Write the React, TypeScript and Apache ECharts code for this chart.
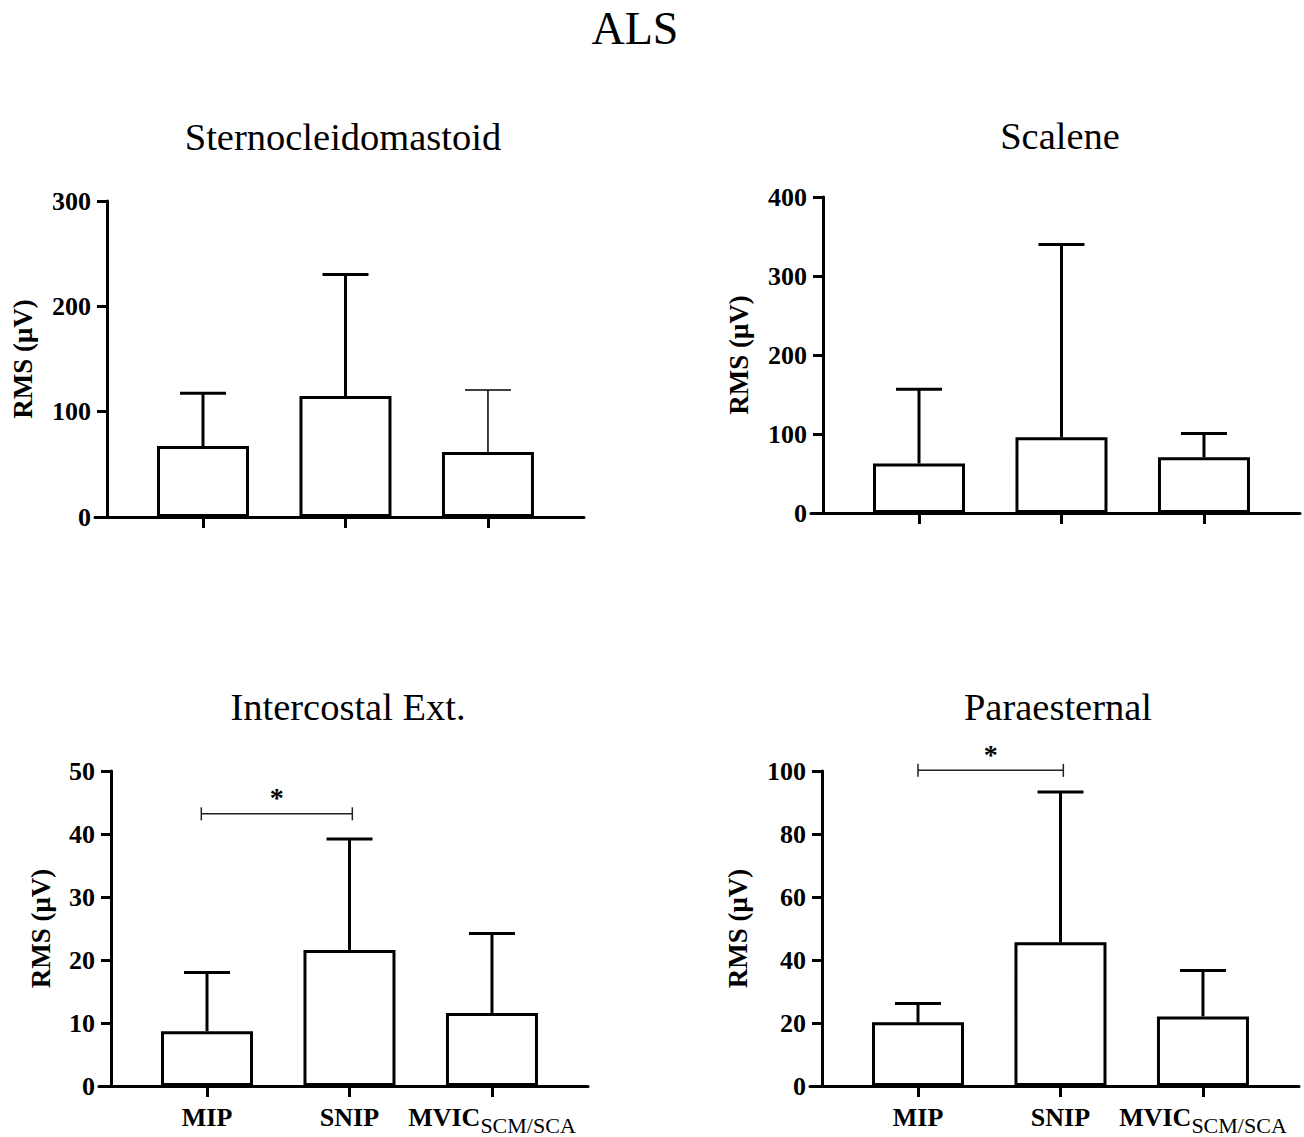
import React, { useEffect, useRef } from "react";
import * as echarts from "echarts";

// ---------- data ----------
const CATEGORIES = ["MIP", "SNIP", "MVIC"];
const CATEGORY_SUBSCRIPTS = ["", "", "SCM/SCA"];
const MAIN_TITLE = "ALS";
const PANEL_TITLES = ["Sternocleidomastoid", "Scalene", "Intercostal Ext.", "Paraesternal"];
const Y_AXIS_NAME = "RMS (μV)";

const SCM_MEAN = [67.4, 114.8, 61.7];
const SCM_UPPER = [117.5, 230.3, 120.5];
const SCA_MEAN = [62.6, 95.8, 70.5];
const SCA_UPPER = [156.8, 340.0, 100.5];
const ICE_MEAN = [8.7, 21.6, 11.6];
const ICE_UPPER = [18.0, 39.2, 24.2];
const PARA_MEAN = [20.2, 45.6, 22.1];
const PARA_UPPER = [26.2, 93.3, 36.7];

const Y_MAX = [300, 400, 50, 100];
const Y_STEP = [100, 100, 10, 20];

// significance brackets: [fromCategory, toCategory, yValue]
const ICE_SIG = [-0.04, 1.02, 43.2];
const PARA_SIG = [0, 1.02, 100.2];
const SIG_LABEL = "*";

const MEANS = [SCM_MEAN, SCA_MEAN, ICE_MEAN, PARA_MEAN];
const UPPERS = [SCM_UPPER, SCA_UPPER, ICE_UPPER, PARA_UPPER];
const SIGS = [null, null, ICE_SIG, PARA_SIG];

// ---------- layout / style ----------
const FONT = "'Liberation Serif', 'Times New Roman', serif";
const LAYOUT = [
  { axisX: 107, axisY: 517, top: 201, nameGap: 71, titleX: 343, titleY: 137, labels: false },
  { axisX: 823, axisY: 513, top: 197, nameGap: 71, titleX: 1060, titleY: 136, labels: false },
  { axisX: 111, axisY: 1086, top: 771, nameGap: 57, titleX: 348, titleY: 707, labels: true },
  { axisX: 822, axisY: 1086, top: 771, nameGap: 71, titleX: 1058, titleY: 707, labels: true },
];
const STUB = 12;
const GRID_W = 489;
const X_MIN = -0.758;
const X_MAX = 2.674;
const THIN_ERR: Record<number, number[]> = { 0: [2] };

export default function App() {
  const ref = useRef<HTMLDivElement>(null);

  useEffect(() => {
    if (!ref.current) return;
    const chart = echarts.init(ref.current, null, { renderer: "svg" });

    const grids: any[] = [];
    const xAxes: any[] = [];
    const yAxes: any[] = [];
    const series: any[] = [];
    const graphics: any[] = [];

    graphics.push({
      type: "text",
      x: 635,
      y: 28,
      style: {
        text: MAIN_TITLE,
        fontFamily: FONT,
        fontSize: 46,
        fill: "#000",
        textAlign: "center",
        textVerticalAlign: "middle",
      },
    });

    LAYOUT.forEach((L, i) => {
      grids.push({
        left: L.axisX - STUB,
        top: L.top,
        width: GRID_W,
        height: L.axisY - L.top,
        containLabel: false,
        outerBoundsMode: "none",
      });
      graphics.push({
        type: "text",
        x: L.titleX,
        y: L.titleY,
        style: {
          text: PANEL_TITLES[i],
          fontFamily: FONT,
          fontSize: 38.5,
          fill: "#000",
          textAlign: "center",
          textVerticalAlign: "middle",
        },
      });
      xAxes.push({
        type: "value",
        gridIndex: i,
        min: X_MIN,
        max: X_MAX,
        splitLine: { show: false },
        axisLine: { show: true, onZero: false, lineStyle: { color: "#000", width: 3 } },
        axisTick: {
          show: true,
          customValues: [0, 1, 2],
          length: 11,
          lineStyle: { color: "#000", width: 3 },
        },
        axisLabel: {
          show: L.labels,
          customValues: [0, 1, 2],
          margin: 18,
          formatter: (v: number) => {
            const k = Math.round(v);
            const sub = CATEGORY_SUBSCRIPTS[k];
            return sub ? `{b|${CATEGORIES[k]}}{s|${sub}}` : `{b|${CATEGORIES[k]}}`;
          },
          rich: {
            b: {
              fontFamily: FONT,
              fontSize: 26,
              fontWeight: "bold",
              color: "#000",
              lineHeight: 30,
              verticalAlign: "top",
            },
            s: {
              fontFamily: FONT,
              fontSize: 22,
              fontWeight: "normal",
              color: "#000",
              lineHeight: 42,
              verticalAlign: "middle",
            },
          },
        },
      });
      yAxes.push({
        type: "value",
        gridIndex: i,
        min: 0,
        max: Y_MAX[i],
        interval: Y_STEP[i],
        offset: -STUB,
        splitLine: { show: false },
        axisLine: { show: true, onZero: false, lineStyle: { color: "#000", width: 3 } },
        axisTick: { show: true, length: 10, lineStyle: { color: "#000", width: 3 } },
        axisLabel: {
          fontFamily: FONT,
          fontSize: 26,
          fontWeight: "bold",
          color: "#000",
          margin: 16,
        },
        name: Y_AXIS_NAME,
        nameLocation: "middle",
        nameRotate: 90,
        nameGap: L.nameGap,
        nameTextStyle: {
          fontFamily: FONT,
          fontSize: 27,
          fontWeight: "bold",
          color: "#000",
        },
      });

      series.push({
        type: "bar",
        xAxisIndex: i,
        yAxisIndex: i,
        barWidth: 92,
        data: MEANS[i].map((v, k) => [k, v]),
        itemStyle: { color: "#fff", borderColor: "#000", borderWidth: 3 },
        z: 2,
      });

      const thin = THIN_ERR[i] || [];
      series.push({
        type: "custom",
        xAxisIndex: i,
        yAxisIndex: i,
        clip: false,
        z: 3,
        data: MEANS[i].map((v, k) => [k, v, UPPERS[i][k]]),
        encode: { x: 0, y: [1, 2] },
        renderItem: (params: any, api: any) => {
          const x = api.value(0);
          const m = api.coord([x, api.value(1)]);
          const u = api.coord([x, api.value(2)]);
          const w = thin.indexOf(params.dataIndex) >= 0 ? 1.5 : 3;
          return {
            type: "group",
            children: [
              {
                type: "line",
                shape: { x1: m[0], y1: m[1], x2: u[0], y2: u[1] },
                style: { stroke: "#000", lineWidth: w },
              },
              {
                type: "line",
                shape: { x1: u[0] - 23, y1: u[1], x2: u[0] + 23, y2: u[1] },
                style: { stroke: "#000", lineWidth: w },
              },
            ],
          };
        },
      });

      const sig = SIGS[i];
      if (sig) {
        series.push({
          type: "custom",
          xAxisIndex: i,
          yAxisIndex: i,
          clip: false,
          z: 4,
          data: [sig],
          encode: { x: [0, 1], y: 2 },
          renderItem: (params: any, api: any) => {
            const a = api.coord([api.value(0), api.value(2)]);
            const b = api.coord([api.value(1), api.value(2)]);
            const mid = (a[0] + b[0]) / 2;
            return {
              type: "group",
              children: [
                {
                  type: "line",
                  shape: { x1: a[0], y1: a[1], x2: b[0], y2: b[1] },
                  style: { stroke: "#222", lineWidth: 1.5 },
                },
                {
                  type: "line",
                  shape: { x1: a[0], y1: a[1] - 6.5, x2: a[0], y2: a[1] + 6.5 },
                  style: { stroke: "#222", lineWidth: 1.5 },
                },
                {
                  type: "line",
                  shape: { x1: b[0], y1: b[1] - 6.5, x2: b[0], y2: b[1] + 6.5 },
                  style: { stroke: "#222", lineWidth: 1.5 },
                },
                {
                  type: "text",
                  x: mid,
                  y: a[1] - 16,
                  style: {
                    text: SIG_LABEL,
                    fontFamily: FONT,
                    fontSize: 28,
                    fontWeight: "bold",
                    fill: "#000",
                    textAlign: "center",
                    textVerticalAlign: "middle",
                  },
                },
              ],
            };
          },
        });
      }
    });

    chart.setOption({
      animation: false,
      backgroundColor: "#fff",
      grid: grids,
      xAxis: xAxes,
      yAxis: yAxes,
      series,
      graphic: graphics,
    });

    return () => chart.dispose();
  }, []);

  return (
    <div
      ref={ref}
      style={{ position: "absolute", left: 0, top: 0, width: 1304, height: 1137 }}
    />
  );
}
